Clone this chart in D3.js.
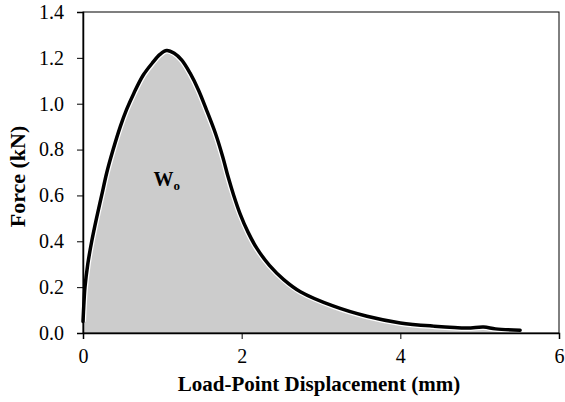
<!DOCTYPE html>
<html>
<head>
<meta charset="utf-8">
<script src="https://cdn.jsdelivr.net/npm/d3@7"></script>
<style>
  body { margin: 0; background: #fff; }
  text { font-family: "Liberation Serif", "Times New Roman", serif; }
</style>
</head>
<body>
<div id="wrapper"></div>
<script>
// load-point displacement (mm) and force (kN)
const displacement = [0, 0.01, 0.025, 0.06, 0.11, 0.17, 0.235, 0.3, 0.38, 0.47, 0.55, 0.64, 0.76, 0.88, 0.97, 1.055, 1.15, 1.245, 1.35, 1.455, 1.56, 1.67, 1.76, 1.83, 1.9, 1.98, 2.08, 2.19, 2.35, 2.53, 2.74, 3.16, 3.58, 4.0, 4.42, 4.84, 5.05, 5.2, 5.51];
const force = [0.05, 0.12, 0.2, 0.3, 0.4, 0.5, 0.6, 0.7, 0.8, 0.9, 0.975, 1.045, 1.125, 1.18, 1.215, 1.232, 1.22, 1.19, 1.133, 1.06, 0.97, 0.87, 0.77, 0.68, 0.6, 0.52, 0.44, 0.37, 0.295, 0.233, 0.18, 0.117, 0.073, 0.044, 0.03, 0.022, 0.026, 0.018, 0.012];
const xTicks = [0, 2, 4, 6];
const yTicks = [0, 0.2, 0.4, 0.6, 0.8, 1.0, 1.2, 1.4];

const data = displacement.map((d, i) => ({x: d, y: force[i]}));

const dimension = {
    width: 565,
    height: 402,
    margin: {top: 12, left: 83, bottom: 69, right: 6}
};
dimension.boundedWidth = dimension.width - dimension.margin.left - dimension.margin.right;
dimension.boundedHeight = dimension.height - dimension.margin.top - dimension.margin.bottom;

const svg = d3.select("#wrapper").append("svg")
    .attr("width", dimension.width)
    .attr("height", dimension.height);

const bounded = svg.append("g")
    .attr("transform", `translate(${dimension.margin.left},${dimension.margin.top})`);

const xScaler = d3.scaleLinear().domain([0, 6]).range([0, dimension.boundedWidth]);
const yScaler = d3.scaleLinear().domain([0, 1.4]).range([dimension.boundedHeight, 0]);

const curve = d3.curveCatmullRom.alpha(0.5);

const areaGenerator = d3.area()
    .x(d => xScaler(d.x))
    .y0(yScaler(0))
    .y1(d => yScaler(d.y))
    .curve(curve);

const lineGenerator = d3.line()
    .x(d => xScaler(d.x))
    .y(d => yScaler(d.y))
    .curve(curve);

bounded.append("path")
    .attr("d", areaGenerator(data))
    .attr("fill", "#cccccc");

// thin white halo between the fill and the curve
bounded.append("path")
    .attr("d", lineGenerator(data))
    .attr("fill", "none")
    .attr("stroke", "#ffffff")
    .attr("stroke-width", 6);

bounded.append("path")
    .attr("d", lineGenerator(data))
    .attr("fill", "none")
    .attr("stroke", "#000")
    .attr("stroke-width", 3.5)
    .attr("stroke-linecap", "round");

// frame top/right
bounded.append("rect")
    .attr("x", 0).attr("y", 0)
    .attr("width", dimension.boundedWidth)
    .attr("height", dimension.boundedHeight)
    .attr("fill", "none")
    .attr("stroke", "#000")
    .attr("stroke-width", 1);

const xAxis = bounded.append("g")
    .attr("transform", `translate(0,${dimension.boundedHeight})`)
    .call(d3.axisBottom(xScaler).tickValues(xTicks).tickSize(6).tickPadding(10).tickFormat(d3.format("d")));

const yAxis = bounded.append("g")
    .call(d3.axisLeft(yScaler).tickValues(yTicks).tickSize(6).tickPadding(13).tickFormat(d3.format(".1f")));

[xAxis, yAxis].forEach(ax => {
    ax.select(".domain").attr("stroke", "#000").attr("stroke-width", 1.5);
    ax.selectAll(".tick line").attr("stroke", "#000").attr("stroke-width", 1);
    ax.selectAll(".tick text")
        .attr("fill", "#000")
        .style("font-family", '"Liberation Serif", serif')
        .style("font-size", "20px");
});

svg.append("text")
    .attr("x", dimension.margin.left + dimension.boundedWidth / 2 - 2)
    .attr("y", 391)
    .style("text-anchor", "middle")
    .style("font-weight", "bold")
    .style("font-size", "21px")
    .text("Load-Point Displacement (mm)");

svg.append("text")
    .attr("transform", "rotate(-90)")
    .attr("x", -(dimension.margin.top + dimension.boundedHeight / 2 + 4))
    .attr("y", 25)
    .style("text-anchor", "middle")
    .style("font-weight", "bold")
    .style("font-size", "22px")
    .text("Force (kN)");

const wLabel = bounded.append("text")
    .attr("x", xScaler(0.89))
    .attr("y", yScaler(0.64))
    .style("font-weight", "bold")
    .style("font-size", "20px")
    .text("W");
wLabel.append("tspan")
    .attr("dy", 4)
    .style("font-size", "13px")
    .text("o");
</script>
</body>
</html>
